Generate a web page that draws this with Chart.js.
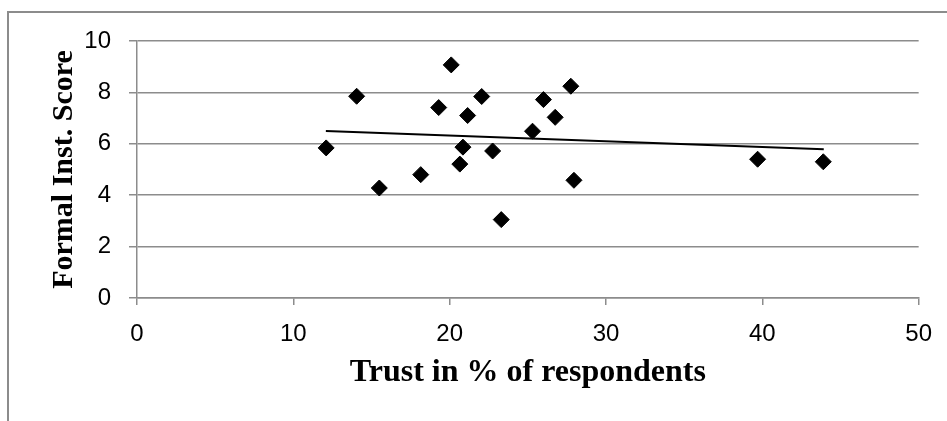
<!DOCTYPE html>
<html>
<head>
<meta charset="utf-8">
<script src="https://cdn.jsdelivr.net/npm/chart.js@4/dist/chart.umd.min.js"></script>
<style>
  html, body { margin: 0; padding: 0; background: #fff; }
  #wrap { position: relative; width: 947px; height: 421px; overflow: hidden; }
  #frame { position: absolute; left: 7px; top: 11px; width: 960px; height: 430px;
           border-left: 2px solid #8c8c8c; border-top: 2px solid #8c8c8c; pointer-events: none; }
  canvas { position: absolute; left: 0; top: 0; }
</style>
</head>
<body>
<div id="wrap">
  <canvas id="c" width="947" height="421"></canvas>
  <div id="frame"></div>
</div>
<script>
// Trust (% of respondents) vs. formal institutions score, one point per country
const trust = [12.1, 14.05, 15.5, 18.15, 19.3, 20.1, 20.65, 20.85, 21.15, 22.05,
               22.75, 23.3, 25.3, 26.0, 26.75, 27.75, 27.95, 39.7, 43.9];
const score = [5.84, 7.85, 4.28, 4.80, 7.41, 9.07, 5.21, 5.87, 7.10, 7.84,
               5.72, 3.05, 6.49, 7.72, 7.03, 8.24, 4.58, 5.40, 5.30];

// Linear trend line endpoints
const trendX = [12.08, 43.93];
const trendY = [6.50, 5.79];

const xTicks = [0, 10, 20, 30, 40, 50];
const yTicks = [0, 2, 4, 6, 8, 10];

const xTitle = 'Trust in % of respondents';
const yTitle = 'Formal Inst. Score';

const gridGray = '#8c8c8c';
const tickFont = { family: "'Liberation Sans Narrow', 'Liberation Sans', sans-serif", size: 24 };

new Chart(document.getElementById('c'), {
  type: 'scatter',
  data: {
    datasets: [
      {
        label: 'Countries',
        data: trust.map((t, i) => ({ x: t, y: score[i] })),
        pointStyle: 'rectRot',
        pointRadius: 8,
        pointHoverRadius: 8,
        backgroundColor: '#000',
        borderColor: '#000',
        borderWidth: 1,
        order: 1
      },
      {
        label: 'Trend',
        type: 'line',
        data: trendX.map((t, i) => ({ x: t, y: trendY[i] })),
        borderColor: '#000',
        borderWidth: 2,
        pointRadius: 0,
        fill: false,
        order: 2
      }
    ]
  },
  options: {
    responsive: false,
    animation: false,
    events: [],
    layout: { padding: { left: 0, top: 41, right: 27, bottom: 0 } },
    plugins: { legend: { display: false }, tooltip: { enabled: false } },
    scales: {
      x: {
        type: 'linear',
        min: 0, max: 50,
        afterBuildTicks: s => { s.ticks = xTicks.map(v => ({ value: v })); },
        afterFit: s => { s.height = 123; },
        grid: { display: true, drawOnChartArea: false, drawTicks: true, tickLength: 7, color: gridGray, lineWidth: 1.5 },
        border: { display: true, color: gridGray, width: 1.5 },
        ticks: { color: '#000', font: tickFont, padding: 15, maxRotation: 0 },
        title: {
          display: true, text: xTitle, color: '#000',
          font: { family: "'Liberation Serif', 'Times New Roman', serif", size: 32, weight: 'bold' },
          padding: { top: 0, bottom: 29 }
        }
      },
      y: {
        type: 'linear',
        min: 0, max: 10,
        afterBuildTicks: s => { s.ticks = yTicks.map(v => ({ value: v })); },
        afterFit: s => { s.width = 137; },
        grid: { display: true, drawTicks: true, tickLength: 8, color: gridGray, lineWidth: 1.5 },
        border: { display: true, color: gridGray, width: 1.5 },
        ticks: { color: '#000', font: tickFont, padding: 18 },
        title: {
          display: true, text: yTitle, color: '#000',
          font: { family: "'Liberation Serif', 'Times New Roman', serif", size: 30, weight: 'bold' },
          padding: { top: 46, bottom: 0 }
        }
      }
    }
  }
});
</script>
</body>
</html>
